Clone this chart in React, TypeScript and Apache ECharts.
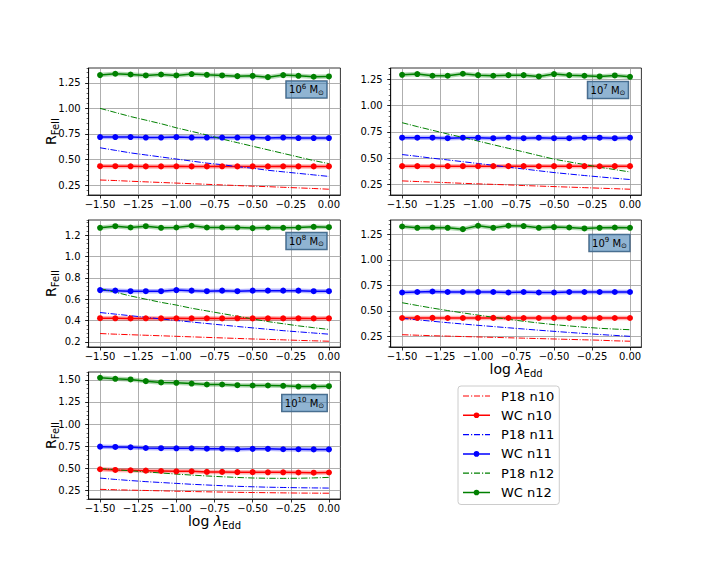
import React, { useEffect, useRef } from 'react';
import * as echarts from 'echarts';

// log lambda_Edd grid (x values)
const LOG_EDD = [-1.5, -1.4, -1.3, -1.2, -1.1, -1.0, -0.9, -0.8, -0.7, -0.6, -0.5, -0.4, -0.3, -0.2, -0.1, 0.0];

// Panel 10^6 Msun
const P18_N10_M6 = [0.300, 0.295, 0.288, 0.282, 0.276, 0.270, 0.264, 0.258, 0.252, 0.246, 0.240, 0.235, 0.229, 0.223, 0.217, 0.210];
const WC_N10_M6 = [0.435, 0.435, 0.434, 0.433, 0.433, 0.434, 0.433, 0.433, 0.434, 0.433, 0.433, 0.433, 0.434, 0.433, 0.433, 0.433];
const P18_N11_M6 = [0.615, 0.590, 0.565, 0.545, 0.525, 0.505, 0.485, 0.465, 0.450, 0.430, 0.415, 0.395, 0.380, 0.365, 0.350, 0.335];
const WC_N11_M6 = [0.720, 0.720, 0.720, 0.715, 0.715, 0.720, 0.715, 0.715, 0.715, 0.715, 0.715, 0.710, 0.715, 0.710, 0.710, 0.710];
const P18_N12_M6 = [1.000, 0.960, 0.920, 0.885, 0.850, 0.810, 0.775, 0.740, 0.700, 0.665, 0.630, 0.595, 0.560, 0.525, 0.490, 0.460];
const WC_N12_M6 = [1.325, 1.338, 1.331, 1.322, 1.331, 1.322, 1.335, 1.328, 1.322, 1.315, 1.318, 1.305, 1.325, 1.318, 1.309, 1.312];

// Panel 10^7 Msun
const P18_N10_M7 = [0.285, 0.279, 0.274, 0.268, 0.262, 0.257, 0.252, 0.247, 0.241, 0.236, 0.231, 0.226, 0.221, 0.216, 0.211, 0.206];
const WC_N10_M7 = [0.425, 0.425, 0.424, 0.425, 0.425, 0.424, 0.425, 0.425, 0.425, 0.424, 0.425, 0.425, 0.425, 0.424, 0.425, 0.425];
const P18_N11_M7 = [0.535, 0.518, 0.500, 0.484, 0.467, 0.450, 0.433, 0.415, 0.398, 0.381, 0.364, 0.350, 0.336, 0.323, 0.310, 0.298];
const WC_N11_M7 = [0.695, 0.695, 0.695, 0.690, 0.695, 0.695, 0.690, 0.695, 0.690, 0.695, 0.690, 0.690, 0.695, 0.695, 0.690, 0.695];
const P18_N12_M7 = [0.837, 0.800, 0.765, 0.730, 0.697, 0.663, 0.628, 0.594, 0.560, 0.525, 0.491, 0.465, 0.440, 0.415, 0.392, 0.370];
const WC_N12_M7 = [1.291, 1.298, 1.282, 1.282, 1.301, 1.288, 1.282, 1.288, 1.288, 1.276, 1.298, 1.288, 1.282, 1.276, 1.285, 1.272];

// Panel 10^8 Msun
const P18_N10_M8 = [0.278, 0.272, 0.267, 0.262, 0.257, 0.252, 0.247, 0.242, 0.237, 0.232, 0.227, 0.223, 0.219, 0.214, 0.210, 0.206];
const WC_N10_M8 = [0.422, 0.421, 0.420, 0.421, 0.420, 0.421, 0.420, 0.421, 0.420, 0.421, 0.420, 0.421, 0.420, 0.421, 0.420, 0.421];
const P18_N11_M8 = [0.475, 0.460, 0.445, 0.430, 0.415, 0.400, 0.386, 0.372, 0.358, 0.344, 0.331, 0.318, 0.305, 0.294, 0.283, 0.272];
const WC_N11_M8 = [0.685, 0.680, 0.675, 0.675, 0.675, 0.685, 0.680, 0.675, 0.680, 0.675, 0.680, 0.680, 0.680, 0.680, 0.675, 0.675];
const P18_N12_M8 = [0.700, 0.665, 0.630, 0.600, 0.570, 0.545, 0.515, 0.490, 0.465, 0.440, 0.415, 0.390, 0.370, 0.350, 0.333, 0.316];
const WC_N12_M8 = [1.269, 1.284, 1.272, 1.284, 1.269, 1.272, 1.288, 1.272, 1.272, 1.272, 1.266, 1.272, 1.269, 1.272, 1.278, 1.275];

// Panel 10^9 Msun
const P18_N10_M9 = [0.266, 0.261, 0.256, 0.252, 0.248, 0.244, 0.240, 0.236, 0.232, 0.228, 0.224, 0.220, 0.216, 0.212, 0.206, 0.202];
const WC_N10_M9 = [0.430, 0.430, 0.431, 0.430, 0.430, 0.430, 0.431, 0.430, 0.430, 0.430, 0.431, 0.430, 0.430, 0.430, 0.430, 0.430];
const P18_N11_M9 = [0.427, 0.412, 0.398, 0.384, 0.371, 0.358, 0.346, 0.334, 0.322, 0.310, 0.299, 0.288, 0.278, 0.268, 0.259, 0.250];
const WC_N11_M9 = [0.680, 0.685, 0.690, 0.685, 0.685, 0.685, 0.685, 0.680, 0.685, 0.680, 0.680, 0.685, 0.685, 0.685, 0.685, 0.685];
const P18_N12_M9 = [0.580, 0.553, 0.527, 0.503, 0.480, 0.458, 0.437, 0.417, 0.398, 0.381, 0.365, 0.352, 0.340, 0.329, 0.321, 0.315];
const WC_N12_M9 = [1.328, 1.315, 1.318, 1.315, 1.302, 1.335, 1.315, 1.335, 1.332, 1.315, 1.322, 1.318, 1.309, 1.315, 1.318, 1.315];

// Panel 10^10 Msun
const P18_N10_M10 = [0.263, 0.258, 0.254, 0.250, 0.246, 0.242, 0.238, 0.235, 0.232, 0.229, 0.227, 0.225, 0.223, 0.221, 0.220, 0.219];
const WC_N10_M10 = [0.490, 0.482, 0.478, 0.474, 0.470, 0.466, 0.466, 0.460, 0.460, 0.457, 0.457, 0.455, 0.455, 0.453, 0.451, 0.453];
const P18_N11_M10 = [0.390, 0.375, 0.362, 0.350, 0.340, 0.330, 0.320, 0.312, 0.304, 0.297, 0.292, 0.287, 0.284, 0.281, 0.279, 0.277];
const WC_N11_M10 = [0.745, 0.742, 0.738, 0.730, 0.728, 0.726, 0.726, 0.722, 0.722, 0.716, 0.720, 0.720, 0.716, 0.716, 0.714, 0.714];
const P18_N12_M10 = [0.497, 0.485, 0.472, 0.460, 0.448, 0.435, 0.424, 0.414, 0.405, 0.397, 0.391, 0.388, 0.387, 0.388, 0.392, 0.398];
const WC_N12_M10 = [1.523, 1.511, 1.504, 1.485, 1.470, 1.466, 1.458, 1.447, 1.447, 1.439, 1.436, 1.436, 1.432, 1.424, 1.424, 1.428];

const SERIES_NAMES = ['P18 n10', 'WC n10', 'P18 n11', 'WC n11', 'P18 n12', 'WC n12'];
const MASS_EXPONENTS = ['6', '7', '8', '9', '10'];
const Y_TICK_STEPS = [0.25, 0.25, 0.2, 0.25, 0.25];
const Y_TICK_DECIMALS = [2, 2, 1, 2, 2];
const X_TICK_STEP = 0.25;

const PANEL_DATA = [
  [P18_N10_M6, WC_N10_M6, P18_N11_M6, WC_N11_M6, P18_N12_M6, WC_N12_M6],
  [P18_N10_M7, WC_N10_M7, P18_N11_M7, WC_N11_M7, P18_N12_M7, WC_N12_M7],
  [P18_N10_M8, WC_N10_M8, P18_N11_M8, WC_N11_M8, P18_N12_M8, WC_N12_M8],
  [P18_N10_M9, WC_N10_M9, P18_N11_M9, WC_N11_M9, P18_N12_M9, WC_N12_M9],
  [P18_N10_M10, WC_N10_M10, P18_N11_M10, WC_N11_M10, P18_N12_M10, WC_N12_M10],
];

// ---- styling / layout ----
const FONT = 'DejaVu Sans';
const COLORS = ['#ff0000', '#ff0000', '#0000ff', '#0000ff', '#008000', '#008000'];
const LAYOUT = [
  { left: 88.6, top: 68, width: 251.8, height: 127 },
  { left: 390.7, top: 68, width: 250.7, height: 127 },
  { left: 88.6, top: 220, width: 251.8, height: 127 },
  { left: 390.7, top: 220, width: 250.7, height: 127 },
  { left: 88.6, top: 372, width: 251.8, height: 127 },
];
const BOX_CENTERS = [
  [306.5, 89.5],
  [608, 90],
  [306.5, 241],
  [609.5, 243],
  [304.5, 403],
];
const DASHDOT = [6.4, 1.6, 1, 1.6];
const ICON_DASHDOT = 'path://M0 0h6v1.2h-6z M8 0h1.2v1.2h-1.2z M11 0h6v1.2h-6z M19 0h1.2v1.2h-1.2z M22 0h5v1.2h-5z';
const ICON_WC = 'path://M0 2.05h27v1.5h-27z M16.3 2.8a2.8 2.8 0 1 1 -5.6 0a2.8 2.8 0 1 1 5.6 0z';

function fmtX(v: number) {
  const s = Math.abs(v).toFixed(2);
  return v < -1e-9 ? '\u2212' + s : s;
}

function extent(values: number[]) {
  const lo = Math.min(...values);
  const hi = Math.max(...values);
  const pad = (hi - lo) * 0.05;
  return [lo - pad, hi + pad];
}

function buildOption() {
  const [xMin, xMax] = extent(LOG_EDD);
  const grids: any[] = [];
  const xAxes: any[] = [];
  const yAxes: any[] = [];
  const series: any[] = [];
  const graphics: any[] = [];

  PANEL_DATA.forEach((panel, i) => {
    const L = LAYOUT[i];
    grids.push({
      left: L.left, top: L.top, width: L.width, height: L.height,
      show: true, borderColor: '#000', borderWidth: 0.8, backgroundColor: 'transparent',
      containLabel: false, outerBoundsMode: 'none',
    });
    const [yMin, yMax] = extent(panel.flat());
    const step = Y_TICK_STEPS[i];
    const dec = Y_TICK_DECIMALS[i];
    xAxes.push({
      type: 'value', gridIndex: i, min: xMin, max: xMax,
      minInterval: X_TICK_STEP, maxInterval: X_TICK_STEP,
      axisLine: { show: true, onZero: false, lineStyle: { color: '#000', width: 0.8 } },
      axisTick: { show: true, inside: false, length: 3.5, lineStyle: { color: '#000', width: 0.8 } },
      axisLabel: {
        show: true, fontSize: 10, color: '#000', fontFamily: FONT, margin: 4.5,
        showMinLabel: false, showMaxLabel: false, formatter: (v: number) => fmtX(v),
      },
      splitLine: { show: true, showMinLine: false, showMaxLine: false, lineStyle: { color: '#9a9a9a', width: 0.8 } },
    });
    yAxes.push({
      type: 'value', gridIndex: i, position: 'left', min: yMin, max: yMax,
      minInterval: step, maxInterval: step,
      axisLine: { show: true, onZero: false, lineStyle: { color: '#000', width: 0.8 } },
      axisTick: { show: true, inside: false, length: 3.5, lineStyle: { color: '#000', width: 0.8 } },
      axisLabel: {
        show: true, fontSize: 10, color: '#000', fontFamily: FONT, margin: 8,
        showMinLabel: false, showMaxLabel: false, formatter: (v: number) => v.toFixed(dec),
      },
      splitLine: { show: true, showMinLine: false, showMaxLine: false, lineStyle: { color: '#9a9a9a', width: 0.8 } },
    });
    yAxes.push({
      type: 'value', gridIndex: i, position: 'left', offset: 0, min: yMin, max: yMax,
      minInterval: step / 5, maxInterval: step / 5,
      axisLine: { show: false, onZero: false },
      axisTick: { show: true, inside: false, length: 2, lineStyle: { color: '#000', width: 0.6 } },
      axisLabel: { show: false },
      splitLine: { show: false },
    });

    panel.forEach((vals, k) => {
      const name = SERIES_NAMES[k];
      const data = LOG_EDD.map((x, j) => [x, vals[j]]);
      const isWC = k % 2 === 1;
      if (isWC) {
        series.push({
          type: 'line', name: name + ' band', xAxisIndex: i, yAxisIndex: 2 * i, data,
          symbol: 'none', silent: true, clip: true,
          lineStyle: { color: COLORS[k], width: 4.5, opacity: 0.3 },
        });
        series.push({
          type: 'line', name, xAxisIndex: i, yAxisIndex: 2 * i, data,
          symbol: 'circle', symbolSize: 6, showSymbol: true, clip: true,
          itemStyle: { color: COLORS[k] },
          lineStyle: { color: COLORS[k], width: 1.5 },
        });
      } else {
        series.push({
          type: 'line', name, xAxisIndex: i, yAxisIndex: 2 * i, data,
          symbol: 'none', showSymbol: false, clip: true,
          itemStyle: { color: COLORS[k] },
          lineStyle: { color: COLORS[k], width: 1, type: DASHDOT },
        });
      }
    });

    const [cx, cy] = BOX_CENTERS[i];
    graphics.push({
      type: 'text', x: cx, y: cy, z: 100,
      style: {
        text: `{n|10}{sup|${MASS_EXPONENTS[i]}}{n| M}{sub|\u2299}`,
        align: 'center', verticalAlign: 'middle',
        backgroundColor: 'rgba(70,130,180,0.6)', borderColor: '#4a6783', borderWidth: 0.8,
        padding: [2, 3, 2, 3],
        rich: {
          n: { fontFamily: FONT, fontSize: 10, lineHeight: 13, fill: '#000', verticalAlign: 'middle' },
          sup: { fontFamily: FONT, fontSize: 7, lineHeight: 7, fill: '#000', verticalAlign: 'top', padding: [0, 0, 3, 0] },
          sub: { fontFamily: FONT, fontSize: 7, lineHeight: 7, fill: '#000', verticalAlign: 'bottom' },
        },
      },
    });
  });

  // y-axis titles (left column)
  [0, 2, 4].forEach((i) => {
    const L = LAYOUT[i];
    graphics.push({
      type: 'text', x: 52, y: L.top + L.height / 2, rotation: Math.PI / 2,
      style: {
        text: '{r|R}{s|FeII}', align: 'center', verticalAlign: 'middle',
        rich: {
          r: { fontFamily: FONT, fontSize: 14, lineHeight: 16, fill: '#000', verticalAlign: 'top' },
          s: { fontFamily: FONT, fontSize: 10, lineHeight: 10, fill: '#000', verticalAlign: 'bottom', padding: [8, 0, 0, 0] },
        },
      },
    });
  });

  // x-axis titles
  [[3, 370], [4, 522]].forEach(([i, y]) => {
    const L = LAYOUT[i];
    graphics.push({
      type: 'text', x: L.left + L.width / 2, y,
      style: {
        text: '{a|log }{l|\u03bb}{e|Edd}', align: 'center', verticalAlign: 'middle',
        rich: {
          a: { fontFamily: FONT, fontSize: 14, lineHeight: 16, fill: '#000', verticalAlign: 'top' },
          l: { fontFamily: FONT, fontSize: 14, fontStyle: 'italic', lineHeight: 16, fill: '#000', verticalAlign: 'top' },
          e: { fontFamily: FONT, fontSize: 10, lineHeight: 10, fill: '#000', verticalAlign: 'bottom', padding: [8, 0, 0, 0] },
        },
      },
    });
  });

  return {
    animation: false,
    backgroundColor: '#fff',
    textStyle: { fontFamily: FONT },
    grid: grids,
    xAxis: xAxes,
    yAxis: yAxes,
    series,
    legend: {
      show: true, orient: 'vertical', left: 458, top: 386,
      selectedMode: false,
      itemWidth: 27, itemHeight: 14, itemGap: 5.3,
      padding: [3, 5, 5, 5],
      borderColor: '#cccccc', borderWidth: 1, borderRadius: 3,
      backgroundColor: 'rgba(255,255,255,0.8)',
      textStyle: { fontFamily: FONT, fontSize: 13, color: '#000', lineHeight: 14, padding: [0, 0, 0, 6] },
      data: SERIES_NAMES.map((name, k) => ({
        name,
        icon: k % 2 === 1 ? ICON_WC : ICON_DASHDOT,
        itemStyle: { color: COLORS[k], borderWidth: 0 },
      })),
    },
    graphic: graphics,
  };
}

export default function App() {
  const ref = useRef<HTMLDivElement>(null);
  useEffect(() => {
    if (!ref.current) return;
    const chart = echarts.init(ref.current, null, { renderer: 'svg' });
    chart.setOption(buildOption() as any);
    return () => chart.dispose();
  }, []);
  return (
    <div
      ref={ref}
      style={{ position: 'fixed', left: 0, top: 0, width: 713, height: 570, background: '#fff' }}
    />
  );
}
